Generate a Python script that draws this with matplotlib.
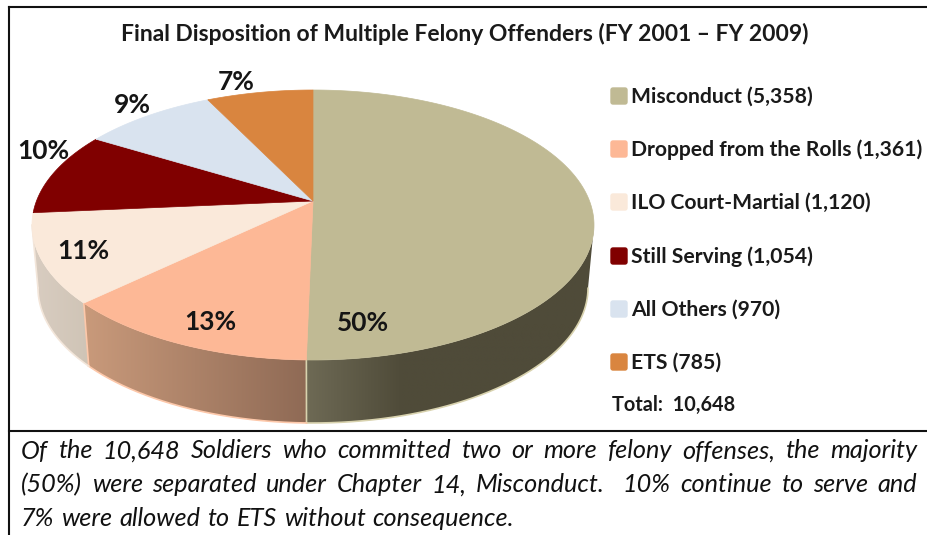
# -*- coding: utf-8 -*-
import matplotlib
matplotlib.use("Agg")
import matplotlib.pyplot as plt
import numpy as np
from matplotlib.colors import LinearSegmentedColormap
from matplotlib.patches import FancyBboxPatch, Polygon

categories = ["Misconduct", "Dropped from the Rolls", "ILO Court-Martial",
              "Still Serving", "All Others", "ETS"]
counts = [5358, 1361, 1120, 1054, 970, 785]
pct_labels = ["50%", "13%", "11%", "10%", "9%", "7%"]
total = 10648
title = "Final Disposition of Multiple Felony Offenders (FY 2001 \u2013 FY 2009)"
caption = ["Of the 10,648 Soldiers who committed two or more felony offenses, the majority",
           "(50%) were separated under Chapter 14, Misconduct.  10% continue to serve and",
           "7% were allowed to ETS without consequence."]

colors = ["#c0ba94", "#fdb896", "#fae9da", "#800000", "#d9e3ef", "#d9853f"]
wall_stops = [["#6e6a55", "#4f4b39", "#4f4b39", "#4f4b39"],
              ["#c99a7b", "#8f6a55"],
              ["#d9cdc1", "#cfc4b6"],
              None, None, None]
rim = ["#d8d2ae", "#fdc8aa", "#f3e6da", None, None, None]

# pie geometry in pixels
apex = (313, 201)
cx, cy, rx, ry = 313, 225, 281, 135
cy2, rx2, ry2 = 288, 275, 135
label_pos = [(363, 323), (210, 322), (83, 251), (43, 151), (132, 105), (236, 82)]
legend_y = [96, 149, 202, 256, 309, 362]

plt.rcParams["font.family"] = ["Lato", "DejaVu Sans"]
fig = plt.figure(figsize=(9.27, 5.35), dpi=100)
ax = fig.add_axes([0, 0, 1, 1])


def rim_points(frac):
    # ray from the apex out to the top ellipse
    phi = 2 * np.pi * frac
    dx, dy = np.sin(phi) * rx, -np.cos(phi) * ry
    ox, oy = apex[0] - cx, apex[1] - cy
    a = (dx / rx) ** 2 + (dy / ry) ** 2
    b = 2 * (ox * dx / rx ** 2 + oy * dy / ry ** 2)
    c = (ox / rx) ** 2 + (oy / ry) ** 2 - 1
    s = (-b + np.sqrt(b * b - 4 * a * c)) / (2 * a)
    return apex[0] + s * dx, apex[1] + s * dy


edges = np.concatenate([[0], np.cumsum(counts)]) / np.sum(counts)

# side walls first, the top covers the rest
for i in range(len(counts)):
    if wall_stops[i] is None:
        continue
    x, y = rim_points(np.linspace(edges[i], edges[i + 1], 500))
    keep = y >= cy
    x, y = x[keep], y[keep]
    t = np.arctan2((y - cy) / ry, (x - cx) / rx)
    x2 = cx + rx2 * np.cos(t)
    y2 = cy2 + ry2 * np.sin(t)
    poly = Polygon(np.r_[np.c_[x, y], np.c_[x2, y2][::-1]], closed=True, fc="none", ec="none")
    ax.add_patch(poly)
    left, right = min(x.min(), x2.min()), max(x.max(), x2.max())
    cmap = LinearSegmentedColormap.from_list("w%d" % i, wall_stops[i])
    im = ax.imshow(np.linspace(0, 1, 256)[None, :], cmap=cmap, aspect="auto",
                   extent=(left, right, y2.max() + 2, y.min() - 2), zorder=1)
    im.set_clip_path(poly)
    ax.plot(x2, y2, color=rim[i], lw=1.2, zorder=2)
    ax.plot([x[-1], x2[-1]], [y[-1], y2[-1]], color=rim[i], lw=1.2, zorder=2)

for i in range(len(counts)):
    x, y = rim_points(np.linspace(edges[i], edges[i + 1], 200))
    ax.fill(np.r_[apex[0], x], np.r_[apex[1], y], color=colors[i], lw=0.5, zorder=3)

for i in range(len(counts)):
    ax.text(label_pos[i][0], label_pos[i][1], pct_labels[i], ha="center", va="center",
            fontsize=19, fontweight="bold", color="#151515", zorder=5)

    ax.add_patch(FancyBboxPatch((611, legend_y[i] - 8), 16, 16, boxstyle="round,pad=0,rounding_size=2",
                                fc=colors[i], ec=colors[i], lw=1, zorder=4))
    ax.text(631, legend_y[i] + 1, "%s (%s)" % (categories[i], format(counts[i], ",")), ha="left", va="center",
            fontsize=15.2, fontweight="bold", color="#1a1a1a", zorder=5)

ax.text(612, 405, "Total:  " + format(total, ","), ha="left", va="center",
        fontsize=14.3, fontweight="bold", color="#1a1a1a")
ax.text(465, 34, title, ha="center", va="center", fontsize=16.5, fontweight="bold", color="#1a1a1a")

# justified caption, word by word
fig.canvas.draw()
rend = fig.canvas.get_renderer()
cap_y = [451, 485, 518]
for n, line in enumerate(caption):
    words = line.split()
    arts = [ax.text(0, cap_y[n], w, ha="left", va="center", fontsize=18.2, style="italic", color="#111111")
            for w in words]
    widths = [a.get_window_extent(rend).width for a in arts]
    # the double space after a full stop stays a bit wider
    extra = [8 if w.endswith(".") and k < len(words) - 1 else 0 for k, w in enumerate(words)]
    if n < 2:
        gap = (917 - 21 - sum(widths) - sum(extra)) / (len(words) - 1)
    else:
        gap = 7
    pos = 21
    for a, w, e in zip(arts, widths, extra):
        a.set_x(pos)
        pos += w + gap + e

# frame
ax.plot([9, 9], [7, 535], color="#111111", lw=1.5)
ax.plot([9, 927], [7, 7], color="#111111", lw=1.5)
ax.plot([9, 927], [431, 431], color="#111111", lw=1.5)

ax.set_xlim(0, 927)
ax.set_ylim(535, 0)
ax.axis("off")
fig.savefig("out.png", dpi=100)
